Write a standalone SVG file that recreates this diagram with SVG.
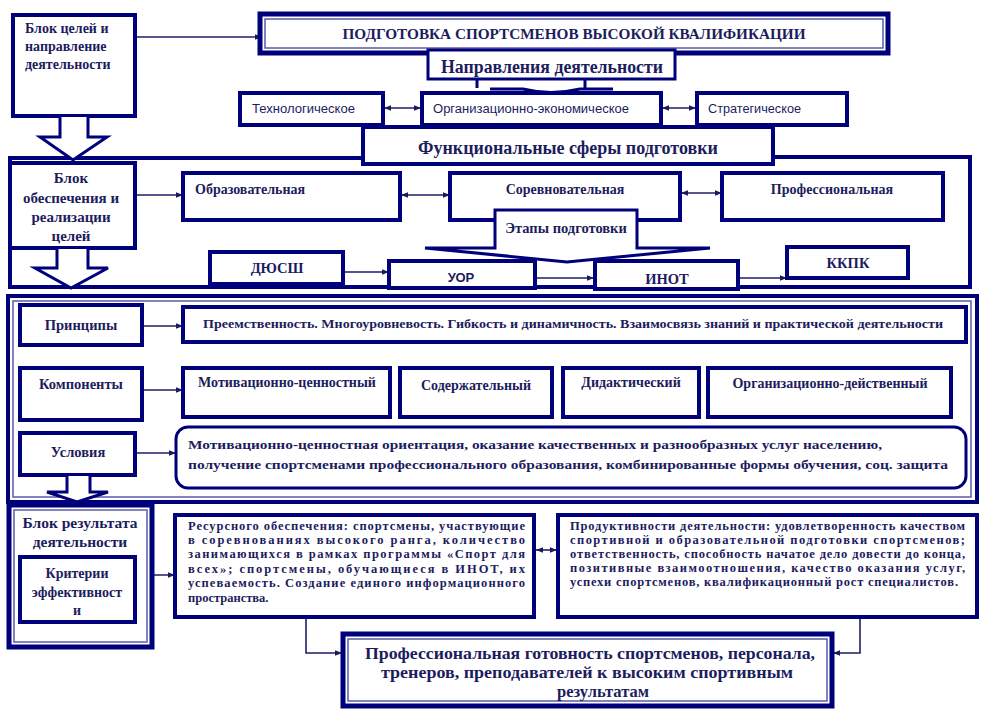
<svg xmlns="http://www.w3.org/2000/svg" width="988" height="713" viewBox="0 0 988 713">
<style>
.bx{fill:#fff;stroke:#00007a;stroke-width:4}
.bx3{fill:#fff;stroke:#00007a;stroke-width:3}
.thin{fill:none;stroke:#5a5aa8;stroke-width:1.5}
.ln{fill:none;stroke:#1e1e66;stroke-width:1.6}
.blk{fill:#fff;stroke:#00007a;stroke-width:3;stroke-linejoin:miter}
.cont{fill:none;stroke:#00007a;stroke-width:4}
.s{font-family:"Liberation Serif","DejaVu Serif","Times New Roman",serif;font-weight:bold;fill:#1c1c5e}
.a{font-family:"Liberation Sans","DejaVu Sans",Arial,sans-serif;fill:#1c1c5e}
.c{text-anchor:middle}
</style>
<defs>
<marker id="ah" viewBox="0 0 10 10" refX="10" refY="5" markerWidth="7" markerHeight="7" orient="auto-start-reverse" markerUnits="userSpaceOnUse"><path d="M0,1 L10,5 L0,9 z" fill="#1a1a60"/></marker>
</defs>
<rect width="988" height="713" fill="#fff"/>

<g id="container1">
<path class="cont" d="M363,158 H10 V287 H970 V157 H773"/>
</g>
<g id="container2">
<rect class="cont" x="8" y="296" width="969" height="206"/>
<rect class="thin" x="13" y="301" width="958" height="196"/>
</g>

<g id="connectors">
<line class="ln" x1="135" y1="37" x2="262" y2="37" marker-end="url(#ah)"/>
<path d="M477,79 V88 M585,79 V88 M490,89 H523 Q551,96 580,89 H613" fill="none" stroke="#00007a" stroke-width="3"/>
<line class="ln" x1="384" y1="108" x2="421" y2="108" marker-start="url(#ah)" marker-end="url(#ah)"/>
<line class="ln" x1="662" y1="108" x2="696" y2="108" marker-start="url(#ah)" marker-end="url(#ah)"/>
<line class="ln" x1="135" y1="195" x2="183" y2="195" marker-end="url(#ah)"/>
<line class="ln" x1="401" y1="195" x2="450" y2="195" marker-start="url(#ah)" marker-end="url(#ah)"/>
<line class="ln" x1="681" y1="193" x2="722" y2="193" marker-start="url(#ah)" marker-end="url(#ah)"/>
<line class="ln" x1="344" y1="272" x2="389" y2="272" marker-end="url(#ah)"/>
<line class="ln" x1="536" y1="278" x2="594" y2="278" marker-end="url(#ah)"/>
<line class="ln" x1="739" y1="278" x2="787" y2="278" marker-end="url(#ah)"/>
<line class="ln" x1="143" y1="326" x2="183" y2="326" marker-end="url(#ah)"/>
<line class="ln" x1="143" y1="390" x2="183" y2="390" marker-end="url(#ah)"/>
<line class="ln" x1="136" y1="453" x2="176" y2="453" marker-end="url(#ah)"/>
<line class="ln" x1="136" y1="575" x2="175" y2="575" marker-end="url(#ah)"/>
<line class="ln" x1="536" y1="550" x2="557" y2="550" marker-start="url(#ah)" marker-end="url(#ah)"/>
<path class="ln" d="M306,617 V653 H342" marker-end="url(#ah)"/>
<path class="ln" d="M860,617 V653 H833" marker-end="url(#ah)"/>
</g>

<g id="goals">
<rect class="bx" x="13" y="15" width="122" height="101"/>
<text class="s" font-size="14"><tspan x="25" y="33">Блок целей и</tspan><tspan x="25" y="51">направление</tspan><tspan x="25" y="69">деятельности</tspan></text>
<path class="blk" d="M60,117 V137 H40 L73,160 L107,137 H88 V117"/>
</g>

<g id="title">
<rect fill="#fff" stroke="#00007a" stroke-width="5" x="260" y="14" width="628" height="39"/>
<rect class="thin" x="265" y="19" width="618" height="29"/>
<text class="s c" x="574" y="39" font-size="15" textLength="463" lengthAdjust="spacingAndGlyphs">ПОДГОТОВКА СПОРТСМЕНОВ ВЫСОКОЙ КВАЛИФИКАЦИИ</text>
</g>

<g id="functional">
<rect class="bx" x="363" y="127" width="410" height="37"/>
<text class="s c" x="568" y="154" font-size="18" textLength="300" lengthAdjust="spacingAndGlyphs">Функциональные сферы подготовки</text>
</g>

<g id="directions">
<rect class="bx3" x="428" y="50" width="247" height="29"/>
<text class="s c" x="552" y="73" font-size="18" textLength="222" lengthAdjust="spacingAndGlyphs">Направления деятельности</text>
</g>

<g id="tech">
<rect class="bx" x="240" y="93" width="143" height="32"/>
<text class="a" x="252" y="113" font-size="12" textLength="103" lengthAdjust="spacingAndGlyphs">Технологическое</text>
</g>
<g id="orgecon">
<rect class="bx" x="422" y="93" width="239" height="32"/>
<text class="a" x="433" y="113" font-size="12" textLength="196" lengthAdjust="spacingAndGlyphs">Организационно-экономическое</text>
</g>
<g id="strat">
<rect class="bx" x="697" y="93" width="150" height="32"/>
<text class="a" x="708" y="113" font-size="12" textLength="93" lengthAdjust="spacingAndGlyphs">Стратегическое</text>
</g>

<g id="support">
<rect class="bx" x="10" y="163" width="125" height="85"/>
<text class="s c" font-size="15"><tspan x="71" y="183">Блок</tspan><tspan x="71" y="203">обеспечения  и</tspan><tspan x="71" y="222">реализации</tspan><tspan x="71" y="241">целей</tspan></text>
<path class="blk" d="M57,249 V268 H35 L71,288 L108,268 H88 V249"/>
</g>

<g id="edu">
<rect class="bx" x="183" y="173" width="217" height="47"/>
<text class="s" x="195" y="194" font-size="14">Образовательная</text>
</g>
<g id="comp">
<rect class="bx" x="450" y="173" width="230" height="47"/>
<text class="s c" x="565" y="194" font-size="14">Соревновательная</text>
</g>
<g id="prof">
<rect class="bx" x="722" y="173" width="221" height="47"/>
<text class="s c" x="832" y="194" font-size="14">Профессиональная</text>
</g>

<g id="stages">
<path class="blk" d="M495,248 V210 H637 V248 H710 L567,262 L425,248 Z"/>
<text class="s c" x="566" y="233" font-size="14.5">Этапы подготовки</text>
</g>

<g id="dyussh">
<rect class="bx" x="210" y="252" width="133" height="32"/>
<text class="s c" x="277" y="273" font-size="14.5">ДЮСШ</text>
</g>
<g id="uor">
<rect class="bx" x="389" y="261" width="146" height="27"/>
<text class="a c" x="461" y="282" font-size="13" font-weight="bold">УОР</text>
</g>
<g id="inot">
<rect class="bx" x="595" y="261" width="143" height="28"/>
<text class="s c" x="667" y="284" font-size="14.5">ИНОТ</text>
</g>
<g id="kkpk">
<rect class="bx" x="787" y="247" width="121" height="31"/>
<text class="s c" x="848" y="268" font-size="14.5">ККПК</text>
</g>

<g id="principles">
<rect class="bx" x="20" y="305" width="122" height="40"/>
<text class="s c" x="81" y="330" font-size="14.5">Принципы</text>
</g>
<g id="principles-text">
<rect class="bx" x="183" y="307" width="783" height="35"/>
<text class="s" x="203" y="328" font-size="13" textLength="740" lengthAdjust="spacingAndGlyphs">Преемственность. Многоуровневость. Гибкость и динамичность. Взаимосвязь знаний и практической деятельности</text>
</g>

<g id="components">
<rect class="bx" x="20" y="368" width="122" height="52"/>
<text class="s c" x="81" y="389" font-size="14.5">Компоненты</text>
</g>
<g id="motiv">
<rect class="bx" x="183" y="368" width="207" height="49"/>
<text class="s c" x="287" y="387" font-size="14">Мотивационно-ценностный</text>
</g>
<g id="content">
<rect class="bx" x="400" y="368" width="152" height="49"/>
<text class="s c" x="476" y="390" font-size="14">Содержательный</text>
</g>
<g id="didactic">
<rect class="bx" x="563" y="368" width="136" height="49"/>
<text class="s c" x="631" y="387" font-size="14">Дидактический</text>
</g>
<g id="orgact">
<rect class="bx" x="708" y="368" width="243" height="49"/>
<text class="s c" x="830" y="388" font-size="14">Организационно-действенный</text>
</g>

<g id="conditions">
<rect class="bx" x="20" y="433" width="115" height="42"/>
<text class="s c" x="78" y="457" font-size="14.5">Условия</text>
<path class="blk" d="M67,476 V492 H47 L77,502 L108,492 H90 V476"/>
</g>
<g id="conditions-text">
<rect class="bx3" x="176" y="427" width="790" height="61" rx="12"/>
<text class="s" font-size="13.5"><tspan x="188" y="449" textLength="694" lengthAdjust="spacingAndGlyphs">Мотивационно-ценностная ориентация, оказание качественных и разнообразных услуг населению,</tspan><tspan x="188" y="469" textLength="760" lengthAdjust="spacingAndGlyphs">получение  спортсменами профессионального образования,  комбинированные формы обучения, соц. защита</tspan></text>
</g>

<g id="result">
<rect fill="#fff" stroke="#00007a" stroke-width="5" x="9" y="505" width="143" height="142"/>
<rect class="thin" x="14" y="510" width="133" height="132"/>
<text class="s c" font-size="15.5"><tspan x="80" y="528">Блок результата</tspan><tspan x="80" y="547">деятельности</tspan></text>
</g>
<g id="criteria">
<rect class="bx" x="20" y="557" width="115" height="65"/>
<text class="s c" font-size="14"><tspan x="77" y="578">Критерии</tspan><tspan x="77" y="597">эффективност</tspan><tspan x="77" y="615">и</tspan></text>
</g>

<g id="resource">
<rect class="bx" x="175" y="515" width="359" height="102"/>
<text class="s" font-size="12.5"><tspan x="188" y="530" textLength="337" lengthAdjust="spacing">Ресурсного обеспечения: спортсмены, участвующие</tspan><tspan x="188" y="544" textLength="337" lengthAdjust="spacing">в соревнованиях высокого ранга, количество</tspan><tspan x="188" y="558" textLength="337" lengthAdjust="spacing">занимающихся в рамках программы «Спорт для</tspan><tspan x="188" y="573" textLength="337" lengthAdjust="spacing">всех»; спортсмены, обучающиеся в ИНОТ, их</tspan><tspan x="188" y="587" textLength="337" lengthAdjust="spacing">успеваемость. Создание единого информационного</tspan><tspan x="188" y="602">пространства.</tspan></text>
</g>

<g id="productivity">
<rect class="bx" x="558" y="515" width="419" height="102"/>
<text class="s" font-size="12.5"><tspan x="570" y="530" textLength="395" lengthAdjust="spacing">Продуктивности деятельности: удовлетворенность качеством</tspan><tspan x="570" y="544" textLength="395" lengthAdjust="spacing">спортивной и образовательной подготовки спортсменов;</tspan><tspan x="570" y="558" textLength="395" lengthAdjust="spacing">ответственность, способность начатое дело довести до конца,</tspan><tspan x="570" y="572" textLength="395" lengthAdjust="spacing">позитивные взаимоотношения, качество оказания услуг,</tspan><tspan x="570" y="586" textLength="388" lengthAdjust="spacing">успехи спортсменов, квалификационный рост специалистов.</tspan></text>
</g>

<g id="final">
<rect fill="#fff" stroke="#00007a" stroke-width="5" x="343" y="634" width="489" height="72"/>
<rect class="thin" x="348" y="639" width="479" height="62"/>
<text class="s" font-size="16.5"><tspan x="365" y="659" textLength="450" lengthAdjust="spacingAndGlyphs">Профессиональная готовность спортсменов, персонала,</tspan><tspan x="381" y="678" textLength="412" lengthAdjust="spacingAndGlyphs">тренеров, преподавателей к высоким спортивным</tspan><tspan x="603" y="697" text-anchor="middle">результатам</tspan></text>
</g>
</svg>
